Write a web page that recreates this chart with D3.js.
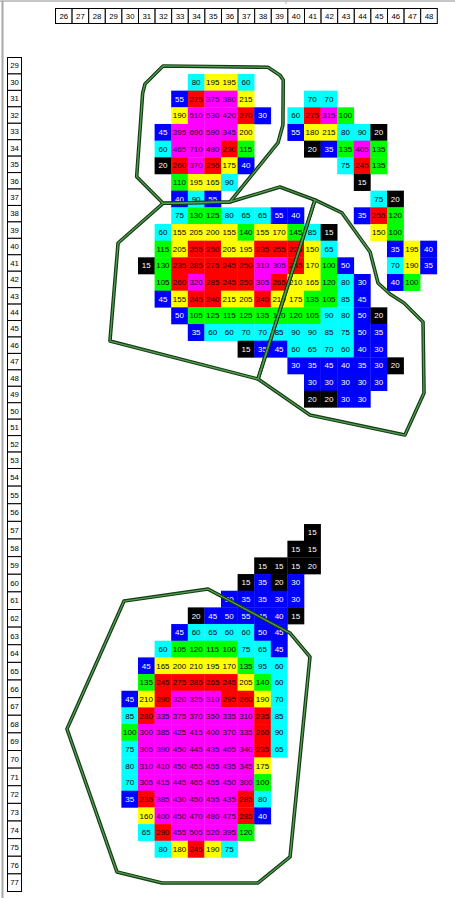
<!DOCTYPE html>
<html><head><meta charset="utf-8">
<script src="https://cdn.jsdelivr.net/npm/d3@7"></script>
<style>html,body{margin:0;padding:0;background:#fff;overflow:hidden}</style>
</head><body><svg id="c" width="455" height="898"></svg>
<script>
// ---- data ----
const colLabels = [26,27,28,29,30,31,32,33,34,35,36,37,38,39,40,41,42,43,44,45,46,47,48];
const rowLabels = [29,30,31,32,33,34,35,36,37,38,39,40,41,42,43,44,45,46,47,48,49,50,51,52,53,
                   54,55,56,57,58,59,60,61,62,63,64,65,66,67,68,69,70,71,72,73,74,75,76,77];
// each segment: a run of consecutive cells on one row, starting at a column
const segRows = [30,31,31,32,32,33,33,34,34,35,35,36,36,37,37,38,38,39,39,40,40,41,41,42,42,43,44,45,46,47,48,49,
                 57,58,59,60,61,62,63,64,65,66,67,68,69,70,71,72,73,74,75,76];
const segStarts = [34,33,41,33,40,32,40,32,41,32,43,33,44,33,45,33,44,32,45,32,46,31,46,32,46,32,33,34,37,40,41,41,
                   41,40,38,37,36,34,33,32,31,31,30,30,30,30,30,30,30,31,31,32];
const segValues = [
[80,195,195,60],
[55,275,375,380,215],
[70,70],
[190,510,530,420,270,30],
[60,275,315,100],
[45,395,690,590,345,200],
[55,180,215,80,90,20],
[60,465,710,480,230,115],
[20,35,135,405,135],
[20,260,370,255,175,40],
[75,245,135],
[110,195,165,90],
[15],
[40,90,55],
[75,20],
[75,130,125,80,65,65,55,40],
[35,255,120],
[60,155,205,200,155,140,155,170,145,85,15],
[150,100],
[115,205,255,250,205,195,235,255,225,150,65],
[35,195,40],
[15,130,235,285,275,245,250,310,305,245,170,100,50],
[70,190,35],
[105,260,320,285,245,250,305,265,210,165,120,80,30],
[40,100],
[45,155,245,240,215,205,240,210,175,135,105,85,45],
[50,105,125,115,125,135,110,120,105,90,80,50,20],
[35,60,60,70,70,85,90,90,85,75,50,35],
[15,35,45,60,65,70,60,40,30],
[30,35,45,40,35,30,20],
[30,30,30,30,30],
[20,20,30,30],
[15],
[15,15],
[15,15,15,20],
[15,35,20,30],
[30,35,35,30,30],
[20,45,50,55,45,40,15],
[45,60,65,60,60,50,45],
[60,105,120,115,100,75,65,45],
[45,165,200,210,195,170,135,95,60],
[135,245,275,285,265,245,205,140,60],
[45,210,290,320,325,310,295,260,190,70],
[85,280,335,375,370,350,335,310,235,85],
[100,300,385,425,415,400,370,335,260,90],
[75,305,390,450,445,435,405,340,235,65],
[80,310,410,450,455,455,435,345,175],
[70,305,415,445,465,455,450,300,100],
[35,235,385,430,450,455,435,285,80],
[160,400,450,470,480,475,285,40],
[65,290,455,505,520,395,120],
[80,180,245,190,75]
];
// outlined zones, vertices in (column, row) units
const zoneA = [[32.51,29.52],[38.83,29.60],[39.55,30.07],[39.75,30.36],[39.73,33.06],[39.43,34.14],[36.54,37.68],[32.51,37.76],[30.92,36.16],[31.28,31.16],[31.42,30.60]];
const zoneB = [[29.80,40.14],[32.51,37.76],[36.54,37.68],[39.55,36.78],[41.66,37.56],[38.23,48.30],[29.31,46.02]];
const zoneC = [[41.66,37.56],[43.29,38.34],[44.98,40.68],[45.46,42.54],[46.18,43.20],[47.02,43.74],[48.17,44.88],[48.23,49.14],[47.08,51.66],[41.36,50.46],[38.23,48.30]];
const zoneD = [[30.16,61.62],[35.22,60.90],[40.16,63.54],[41.36,64.97],[40.16,76.97],[38.23,78.53],[32.45,78.53],[29.73,77.87],[26.72,69.29]];
const zones = [zoneA, zoneB, zoneC, zoneD];

const colorBreaks = [25, 60, 100, 150, 220, 300];
const cellColors = ['#000000','#0000ff','#00ffff','#00ff00','#ffff00','#ff0000','#ff00ff'];
const textColors = ['#ffffff','#ffffff','#000000','#000000','#000000','#1e0000','#2a002a'];

// ---- scales ----
const x = d3.scaleLinear().domain([26, 49]).range([55, 436.8]);
const y = d3.scaleLinear().domain([29, 78]).range([57.3, 874.1]);
const yLab = d3.scaleLinear().domain([29, 54, 78]).range([57, 468, 891]);
const fill = d3.scaleThreshold().domain(colorBreaks).range(cellColors);
const tfill = d3.scaleThreshold().domain(colorBreaks).range(textColors);

const svg = d3.select('#c');
const font = 'Liberation Sans, Arial, sans-serif';

// frame
svg.append('line').attr('x1',0).attr('x2',455).attr('y1',1).attr('y2',1).attr('stroke','#b4b4b4').attr('stroke-width',1.5);
svg.append('line').attr('x1',2.5).attr('x2',2.5).attr('y1',1).attr('y2',898).attr('stroke','#a8a8a8').attr('stroke-width',2);
svg.append('line').attr('x1',286).attr('x2',286).attr('y1',0).attr('y2',4).attr('stroke','#b4b4b4').attr('stroke-width',1);

// header
const hdr = svg.append('g');
hdr.selectAll('rect').data(colLabels).join('rect')
  .attr('x', d => x(d) + 0.5).attr('y', 8.5)
  .attr('width', d => x(d+1) - x(d)).attr('height', 15)
  .attr('fill', '#fff').attr('stroke', '#000').attr('stroke-width', 1);
hdr.selectAll('text').data(colLabels).join('text')
  .attr('x', d => (x(d) + x(d+1)) / 2 + 0.5).attr('y', 16)
  .attr('dy', '0.35em').attr('text-anchor', 'middle')
  .attr('font-family', font).attr('font-size', 7.8).attr('fill', '#000')
  .text(d => d);

// row labels
const rl = svg.append('g');
rl.selectAll('rect').data(rowLabels).join('rect')
  .attr('x', 7.5).attr('y', d => yLab(d) + 0.5)
  .attr('width', 14).attr('height', d => yLab(d+1) - yLab(d))
  .attr('fill', '#fff').attr('stroke', '#000').attr('stroke-width', 1);
rl.selectAll('text').data(rowLabels).join('text')
  .attr('x', 14.5).attr('y', d => (yLab(d) + yLab(d+1)) / 2 + 0.5)
  .attr('dy', '0.35em').attr('text-anchor', 'middle')
  .attr('font-family', font).attr('font-size', 7.8).attr('fill', '#000')
  .text(d => d);

// cells
const cells = segRows.flatMap((r, i) => segValues[i].map((v, j) => ({row: r, col: segStarts[i] + j, v})));
const g = svg.append('g');
g.selectAll('rect').data(cells).join('rect')
  .attr('x', d => x(d.col)).attr('y', d => y(d.row))
  .attr('width', d => x(d.col + 1) - x(d.col) + 0.3)
  .attr('height', d => y(d.row + 1) - y(d.row) + 0.3)
  .attr('fill', d => fill(d.v));
g.selectAll('text').data(cells).join('text')
  .attr('x', d => (x(d.col) + x(d.col + 1)) / 2)
  .attr('y', d => (y(d.row) + y(d.row + 1)) / 2)
  .attr('dy', '0.35em').attr('text-anchor', 'middle')
  .attr('font-family', font).attr('font-size', 8)
  .attr('fill', d => tfill(d.v))
  .text(d => d.v);

// zone outlines
const line = d3.line().x(d => x(d[0])).y(d => y(d[1])).curve(d3.curveLinearClosed);
const zg = svg.append('g').attr('fill', 'none').attr('stroke-linejoin', 'round');
zg.selectAll('path.o').data(zones).join('path').attr('class','o')
  .attr('d', line).attr('stroke', '#163a16').attr('stroke-width', 3.6);
zg.selectAll('path.i').data(zones).join('path').attr('class','i')
  .attr('d', line).attr('stroke', '#4f9f4f').attr('stroke-width', 1.3);
</script>
</body></html>
